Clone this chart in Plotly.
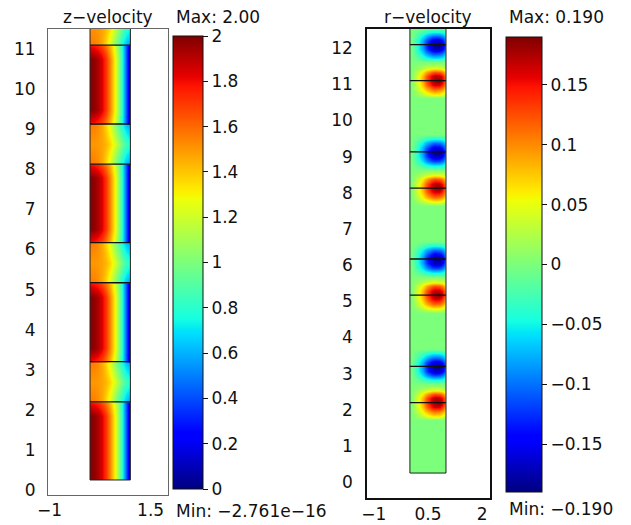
import plotly.graph_objects as go

# The page body has an 8 px margin, so the figure is drawn 8 px in from the corner.
OFF = 8
W, H = 631 - OFF, 525 - OFF

# ---------------- data ----------------
# radial grid (brick edges of the field, r from 0 to 1)
r_edges = [0, 0.05, 0.15, 0.25, 0.35, 0.45, 0.55, 0.65, 0.75, 0.85, 0.95, 1.0]

# horizontal interface lines (z positions)
line_z = [2.2, 3.2, 5.17, 6.17, 8.13, 9.13, 11.1, 12.1]
strip_bottom = 0.25
strip_top = 13.0

# z-velocity radial profiles (r = 0 ... 1)
core_mid = [1.99, 1.97, 1.92, 1.83, 1.70, 1.53, 1.33, 1.08, 0.78, 0.42, 0.05]
core_edge = [1.80, 1.78, 1.74, 1.67, 1.57, 1.43, 1.26, 1.03, 0.76, 0.42, 0.06]
gap_edge = [1.56, 1.55, 1.52, 1.46, 1.36, 1.23, 1.07, 0.91, 0.76, 0.63, 0.56]
gap_mid = [1.50, 1.50, 1.49, 1.47, 1.43, 1.36, 1.25, 1.11, 0.96, 0.85, 0.80]

# r-velocity blobs: offsets from the line and values (r = 0 ... 1)
blob_dz = [-0.49, -0.36, -0.24, -0.12, 0.0, 0.12, 0.24, 0.36, 0.49]
red_blob = [
    [0, 0, 0, 0, 0, 0, 0, 0, 0, 0, 0],
    [0, 0.005, 0.014, 0.026, 0.039, 0.050, 0.060, 0.064, 0.060, 0.050, 0.035],
    [0, 0.010, 0.028, 0.050, 0.072, 0.092, 0.108, 0.116, 0.112, 0.095, 0.068],
    [0, 0.013, 0.036, 0.065, 0.095, 0.124, 0.148, 0.162, 0.160, 0.136, 0.097],
    [0, 0.014, 0.040, 0.072, 0.106, 0.140, 0.166, 0.182, 0.190, 0.162, 0.116],
    [0, 0.013, 0.038, 0.068, 0.100, 0.132, 0.158, 0.172, 0.170, 0.148, 0.105],
    [0, 0.010, 0.028, 0.050, 0.074, 0.097, 0.115, 0.125, 0.120, 0.103, 0.072],
    [0, 0.004, 0.011, 0.020, 0.030, 0.038, 0.045, 0.048, 0.046, 0.040, 0.028],
    [0, 0, 0, 0, 0, 0, 0, 0, 0, 0, 0],
]
blue_blob = [
    [0, 0, 0, 0, 0, 0, 0, 0, 0, 0, 0],
    [0, -0.005, -0.014, -0.026, -0.038, -0.048, -0.056, -0.060, -0.058, -0.050, -0.035],
    [0, -0.010, -0.028, -0.050, -0.074, -0.096, -0.112, -0.120, -0.116, -0.100, -0.070],
    [0, -0.013, -0.038, -0.068, -0.100, -0.132, -0.158, -0.172, -0.170, -0.148, -0.105],
    [0, -0.014, -0.040, -0.072, -0.106, -0.140, -0.168, -0.185, -0.190, -0.165, -0.118],
    [0, -0.012, -0.034, -0.062, -0.092, -0.120, -0.144, -0.157, -0.154, -0.132, -0.094],
    [0, -0.008, -0.024, -0.044, -0.064, -0.084, -0.098, -0.105, -0.102, -0.088, -0.062],
    [0, -0.004, -0.011, -0.020, -0.030, -0.038, -0.045, -0.048, -0.046, -0.040, -0.028],
    [0, 0, 0, 0, 0, 0, 0, 0, 0, 0, 0],
]
zero_row = [0.0] * 11

zvel_ticks = [0, 0.2, 0.4, 0.6, 0.8, 1, 1.2, 1.4, 1.6, 1.8, 2]
rvel_ticks = [-0.15, -0.1, -0.05, 0, 0.05, 0.1, 0.15]
left_yticks = list(range(0, 12))
right_yticks = list(range(0, 13))
left_xticks = [-1, 1.5]
right_xticks = [-1, 0.5, 2]

# ---------------- build field tables ----------------
# z-velocity: alternating core (parabolic) and gap (plug) sections
zv_y, zv_z = [strip_bottom + 0.01, strip_bottom + 0.02], [core_mid, core_mid]
bounds = [strip_bottom] + line_z + [strip_top]
for i in range(len(bounds) - 1):
    a, b = bounds[i], bounds[i + 1]
    if i % 2 == 0:  # core
        if i > 0:
            zv_y.append(a + 0.02); zv_z.append(core_edge)
        zv_y += [a + 0.35, b - 0.35]; zv_z += [core_mid, core_mid]
        if i < len(bounds) - 2:
            zv_y.append(b - 0.02); zv_z.append(core_edge)
    else:  # gap
        zv_y += [a + 0.02, (a + b) / 2, b - 0.02]
        zv_z += [gap_edge, gap_mid, gap_edge]

# r-velocity: red blob at lower line of each pair, blue at upper line
rv_y, rv_z = [strip_bottom + 0.01, strip_bottom + 0.02], [zero_row, zero_row]
for k, L in enumerate(line_z):
    blob = red_blob if k % 2 == 0 else blue_blob
    for dz, row in zip(blob_dz, blob):
        rv_y.append(L + dz); rv_z.append(row)
rv_y.append(strip_top); rv_z.append(zero_row)


def jet_scale():
    R = [(0, 0), (0.35, 0), (0.66, 1), (0.89, 1), (1, 0.5)]
    G = [(0, 0), (0.125, 0), (0.375, 1), (0.64, 1), (0.91, 0), (1, 0)]
    B = [(0, 0.5), (0.11, 1), (0.34, 1), (0.65, 0), (1, 0)]

    def interp(seg, t):
        for (x0, y0), (x1, y1) in zip(seg[:-1], seg[1:]):
            if x0 <= t <= x1:
                return y0 + (y1 - y0) * (t - x0) / (x1 - x0)
        return seg[-1][1]

    pts = sorted(set([p[0] for p in R + G + B]))
    return [[t, 'rgb(%d,%d,%d)' % (round(255 * interp(R, t)), round(255 * interp(G, t)),
                                    round(255 * interp(B, t)))] for t in pts]


jet = jet_scale()
FONT = dict(family="DejaVu Sans", size=17, color="#111")


def px(x):
    return (x - OFF) / W


def py(y):
    return 1 - (y - OFF) / H


fig = go.Figure()

fig.add_trace(go.Heatmap(
    x=r_edges, y=zv_y, z=zv_z, zsmooth="best", colorscale=jet, zmin=0, zmax=2,
    xaxis="x", yaxis="y", hoverinfo="skip",
    colorbar=dict(x=px(173), xanchor="left", y=py(262.5), yanchor="middle",
                  len=(489 - 36) / H, lenmode="fraction", thickness=30, thicknessmode="pixels",
                  outlinecolor="#111", outlinewidth=1, tickvals=zvel_ticks,
                  ticks="outside", ticklen=5, tickcolor="#111", tickfont=FONT, xpad=0, ypad=0),
))
fig.add_trace(go.Heatmap(
    x=r_edges, y=rv_y, z=rv_z, zsmooth="best", colorscale=jet, zmin=-0.19, zmax=0.19,
    xaxis="x2", yaxis="y2", hoverinfo="skip",
    colorbar=dict(x=px(506), xanchor="left", y=py(264.5), yanchor="middle",
                  len=(492 - 37) / H, lenmode="fraction", thickness=36, thicknessmode="pixels",
                  outlinecolor="#111", outlinewidth=1, tickvals=rvel_ticks,
                  ticks="outside", ticklen=5, tickcolor="#111", tickfont=FONT, xpad=0, ypad=0),
))

# interface lines and strip outlines
for xa, ya in (("x", "y"), ("x2", "y2")):
    for L in line_z:
        fig.add_trace(go.Scatter(x=[0, 1], y=[L, L], mode="lines", xaxis=xa, yaxis=ya,
                                 line=dict(color="#111", width=1.3), hoverinfo="skip",
                                 showlegend=False))
    fig.add_trace(go.Scatter(x=[0, 0, 1, 1, 0],
                             y=[strip_top, strip_bottom, strip_bottom, strip_top, strip_top],
                             mode="lines", xaxis=xa, yaxis=ya,
                             line=dict(color="#222", width=1), hoverinfo="skip", showlegend=False))

axis_common = dict(showgrid=False, zeroline=False, ticks="", showline=True, mirror=True,
                   tickfont=FONT, automargin=False)

fig.update_layout(
    width=W, height=H, margin=dict(l=0, r=0, t=0, b=0, pad=0, autoexpand=False),
    paper_bgcolor="white", plot_bgcolor="white", showlegend=False,
    xaxis=dict(domain=[px(48), px(168)], range=[-1.04, 1.93], tickvals=left_xticks,
               ticktext=["\u22121", "1.5"], linecolor="#666", linewidth=1,
               ticklabelstandoff=0, anchor="y", **axis_common),
    yaxis=dict(domain=[py(495), py(29)], range=[-0.125, 11.5], tickvals=left_yticks,
               linecolor="#666", linewidth=1, ticklabelstandoff=8, anchor="x", **axis_common),
    xaxis2=dict(domain=[px(367), px(490)], range=[-1.19, 2.22], tickvals=right_xticks,
                ticktext=["\u22121", "0.5", "2"], linecolor="#111", linewidth=1.5,
                ticklabelstandoff=0, anchor="y2", **axis_common),
    yaxis2=dict(domain=[py(498), py(29)], range=[-0.44, 12.53], tickvals=right_yticks,
                linecolor="#111", linewidth=1.5, ticklabelstandoff=9, anchor="x2", **axis_common),
)

annots = [
    ("z\u2212velocity", 108, 17, "center"),
    ("Max: 2.00", 174, 17, "left"),
    ("Min: \u22122.761e\u221216", 174, 511, "left"),
    ("r\u2212velocity", 428, 17, "center"),
    ("Max: 0.190", 507, 17, "left"),
    ("Min: \u22120.190", 507, 509, "left"),
]
for text, x, y, anc in annots:
    fig.add_annotation(text=text, x=px(x), y=py(y), xref="paper", yref="paper",
                       xanchor=anc, yanchor="middle", showarrow=False, font=FONT)

fig.write_html("out.html")
